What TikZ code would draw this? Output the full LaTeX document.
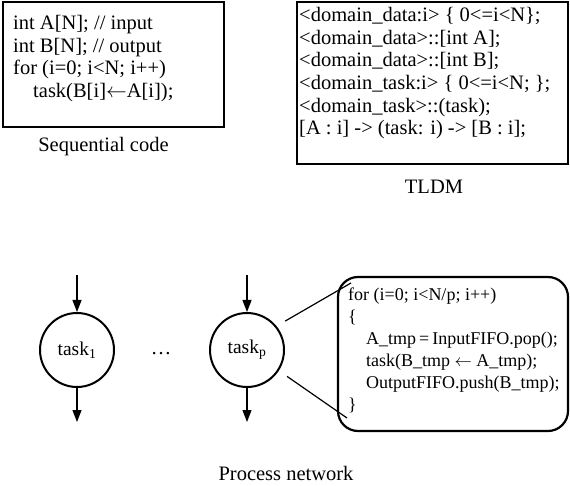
\documentclass[tikz,border=0pt]{standalone}
\usepackage{fontspec}
\setmainfont{Liberation Serif}
\usetikzlibrary{arrows.meta,positioning}
\tikzset{
    %Define standard arrow tip
    >={Triangle[length=12pt,width=9pt]},
    %Define style for boxes
    frame/.style={
           rectangle,
           draw=black, line width=1.5pt,
           inner sep=0pt},
    code/.style={
           align=left,
           inner sep=0pt,
           anchor=north west,
           font=\fontsize{20.5}{22.7}\selectfont},
    caption/.style={
           inner sep=0pt,
           anchor=base,
           font=\fontsize{20.5}{24}\selectfont},
    process/.style={
           circle,
           draw=black, line width=2pt,
           minimum size=74pt,
           inner sep=0pt,
           font=\fontsize{19.5}{22}\selectfont},
    % Define arrow style
    pil/.style={
           ->,
           line width=1.3pt},
    zoomline/.style={
           line width=1.2pt,
           shorten <=10pt}
}

\begin{document}
\begin{tikzpicture}[x=1pt,y=1pt]
\useasboundingbox (0,0) rectangle (570,485);
% sequential code
\node[frame, minimum width=221pt, minimum height=125pt] (seqbox) at (113.5,420.5) {};
\node[code] (seqcode) at (13,470) {int A[N]; // input\\int B[N]; // output\\for (i=0; i<N; i++)\\\hspace*{20pt}task(B[i]$\leftarrow$A[i]);};
\node[caption] (seqlabel) at (103.5,333) {Sequential code};
% TLDM
\node[frame, minimum width=271pt, minimum height=162pt] (tldmbox) at (432.5,402) {};
\node[code] (tldmcode) at (299,478) {<domain\_data:i> \{ 0<=i<N\};\\<domain\_data>::[int A];\\<domain\_data>::[int B];\\<domain\_task:i> \{ 0<=i<N; \};\\<domain\_task>::(task);\\{}[A : i] -> (task: i) -> [B : i];};
\node[caption] (tldmlabel) at (434,291) {TLDM};
% process network
\node[process] (task1) at (77,135) {task\textsubscript{1}};
\node[process] (taskp) at (247,135) {task\textsubscript{p}};
\node[caption] (dots) at (161,131) {…};
\coordinate[above=37pt of task1] (in1);
\coordinate[below=34pt of task1] (out1);
\coordinate[above=37pt of taskp] (inp);
\coordinate[below=34pt of taskp] (outp);
\draw[pil] (in1) -- (task1);
\draw[pil] (task1) -- (out1);
\draw[pil] (inp) -- (taskp);
\draw[pil] (taskp) -- (outp);
\node[draw, line width=2.2pt, rounded corners=20pt, minimum width=230pt, minimum height=154pt] (pbox) at (453,131) {};
\node[code, font=\fontsize{18}{22}\selectfont] (pcode) at (348,197) {for (i=0; i<N/p; i++)\\\{\\\hspace*{18pt}A\_tmp\,=\,InputFIFO.pop();\\\hspace*{18pt}task(B\_tmp $\leftarrow$ A\_tmp);\\\hspace*{18pt}OutputFIFO.push(B\_tmp);\\\}};
\coordinate (ptop) at (351,202);
\coordinate (pbot) at (347,67);
\draw[zoomline] (taskp.39) -- (ptop);
\draw[zoomline] (taskp.-33) -- (pbot);
\node[caption] (netlabel) at (286,5) {Process network};
\end{tikzpicture}
\end{document}
